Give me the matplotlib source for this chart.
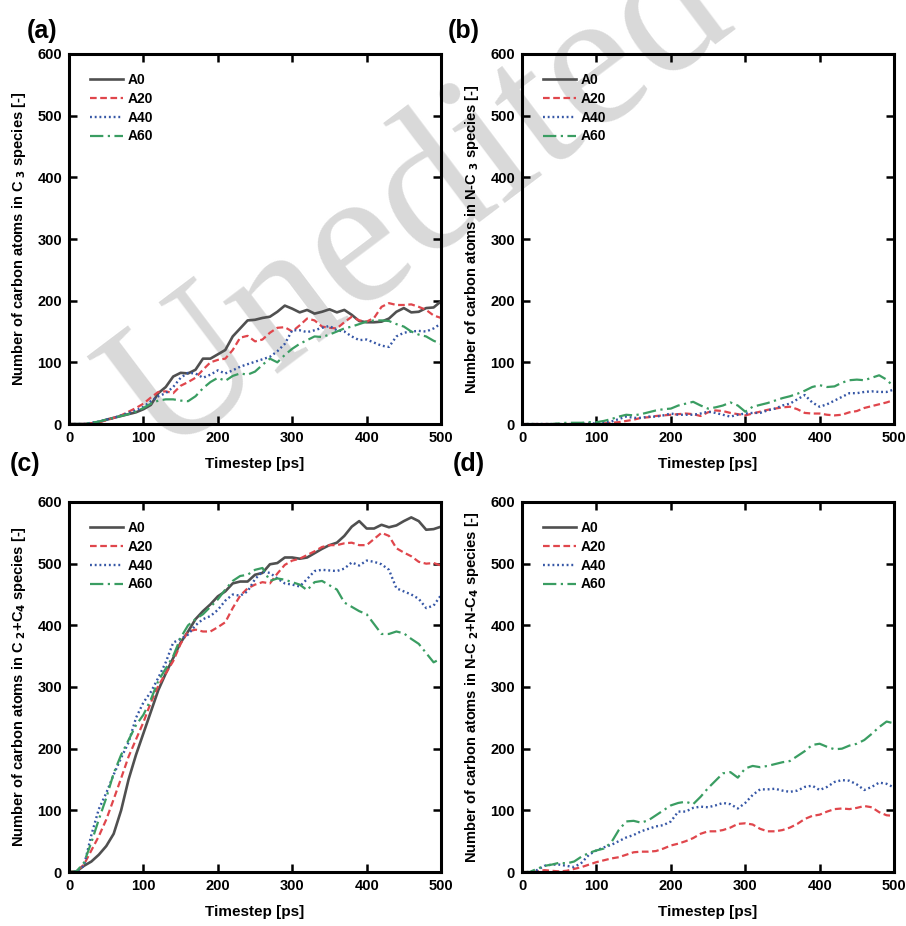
import matplotlib
matplotlib.use("Agg")
from matplotlib import pyplot as plt

plt.rcParams['font.family'] = ['Liberation Sans', 'DejaVu Sans']
plt.rcParams['font.weight'] = 'bold'
plt.rcParams['mathtext.default'] = 'bf'

# timestep grid [ps]
t = list(range(0, 501, 10))
t_flat = [0, 500]

series_names = ['A0', 'A20', 'A40', 'A60']

# (a) C3 species
a_A0 = [0, 0, 0, 1, 3, 7, 10, 13, 16, 19, 24, 31, 50, 60, 77, 83, 82, 88, 106, 106,
        113, 120, 142, 155, 168, 169, 172, 174, 182, 192, 187, 181, 185, 179, 182, 186,
        181, 185, 177, 167, 165, 165, 166, 171, 182, 188, 181, 182, 188, 189, 199]
a_A20 = [0, 0, 0, 1, 3, 6, 10, 14, 20, 26, 33, 43, 52, 53, 50, 62, 68, 75, 88, 100,
         104, 106, 120, 140, 143, 134, 137, 148, 156, 157, 150, 160, 171, 168, 158, 156,
         155, 165, 174, 168, 166, 172, 190, 196, 193, 193, 194, 190, 185, 176, 172]
a_A40 = [0, 0, 0, 2, 4, 7, 10, 14, 18, 22, 28, 37, 45, 50, 60, 75, 83, 82, 75, 80,
         87, 82, 87, 93, 97, 101, 105, 109, 118, 130, 152, 152, 149, 152, 156, 159,
         152, 150, 142, 136, 137, 132, 127, 125, 142, 148, 150, 151, 150, 155, 163]
a_A60 = [0, 0, 0, 2, 4, 7, 10, 13, 16, 20, 26, 33, 38, 40, 40, 38, 37, 45, 58, 68,
         75, 70, 78, 82, 80, 85, 96, 106, 100, 112, 122, 130, 136, 142, 141, 145,
         150, 155, 158, 162, 166, 168, 168, 167, 162, 158, 150, 145, 142, 135, 130]

# (b) N-C3 species
b_A0 = [0, 0]
b_A20 = [0, 0, 0, 0, 0, 0, 0, 0, 0, 0, 0, 1, 2, 3, 5, 7, 10, 11, 13, 14,
         15, 16, 17, 16, 13, 19, 22, 21, 18, 16, 14, 17, 20, 23, 25, 27,
         28, 24, 18, 17, 17, 15, 14, 15, 19, 21, 26, 29, 32, 35, 39]
b_A40 = [0, 0, 0, 0, 0, 0, 0, 0, 0, 1, 1, 2, 4, 8, 12, 10, 10, 12, 12, 14,
         17, 15, 15, 15, 17, 20, 18, 15, 12, 15, 17, 18, 18, 22, 25, 30,
         33, 40, 47, 35, 28, 32, 38, 44, 50, 50, 52, 53, 52, 52, 56]
b_A60 = [0, 0, 0, 0, 0, 1, 2, 2, 2, 3, 3, 5, 8, 12, 15, 14, 16, 19, 22, 24,
         25, 30, 33, 36, 30, 25, 27, 30, 35, 30, 20, 28, 31, 34, 38, 42,
         45, 49, 54, 60, 63, 60, 61, 67, 71, 72, 71, 75, 79, 72, 60]

# (c) C2+C4 species
c_A0 = [0, 1, 10, 17, 28, 42, 62, 100, 150, 190, 225, 260, 295, 322, 347, 372, 390, 410, 423, 434,
        447, 455, 468, 471, 471, 482, 485, 499, 501, 510, 510, 508, 510, 517, 524, 530,
        534, 545, 560, 569, 557, 557, 563, 559, 562, 569, 575, 569, 555, 556, 560]
c_A20 = [0, 1, 12, 35, 58, 85, 118, 152, 187, 215, 243, 275, 302, 322, 342, 370, 390, 393, 390, 390,
         397, 405, 428, 448, 460, 466, 470, 468, 484, 498, 505, 508, 514, 520, 527, 530,
         530, 533, 534, 530, 530, 540, 550, 545, 525, 518, 512, 503, 500, 501, 497]
c_A40 = [0, 1, 10, 60, 102, 128, 158, 185, 210, 250, 275, 292, 315, 340, 372, 378, 385, 400, 410, 415,
         425, 440, 450, 448, 455, 475, 487, 485, 476, 468, 466, 463, 475, 488, 490, 489,
         488, 492, 502, 497, 505, 503, 499, 490, 460, 455, 450, 443, 428, 432, 449]
c_A60 = [0, 1, 15, 48, 85, 120, 160, 190, 214, 238, 255, 280, 310, 330, 350, 380, 400, 410, 418, 430,
         442, 458, 472, 480, 482, 490, 493, 472, 476, 474, 470, 466, 457, 470, 472, 465,
         458, 437, 430, 423, 418, 402, 386, 386, 390, 387, 378, 370, 355, 340, 346]

# (d) N-C2+N-C4 species
d_A0 = [0, 0]
d_A20 = [0, 0, 1, 3, 2, 1, 2, 5, 8, 12, 16, 19, 22, 24, 28, 32, 33, 33, 34, 38,
         43, 46, 50, 55, 62, 66, 66, 68, 72, 78, 79, 77, 70, 66, 66, 68,
         72, 78, 86, 91, 93, 98, 102, 103, 102, 104, 107, 105, 97, 92, 91]
d_A40 = [0, 0, 3, 10, 12, 12, 10, 8, 15, 28, 35, 40, 44, 50, 56, 60, 66, 70, 74, 76,
         82, 98, 98, 104, 106, 105, 108, 112, 110, 103, 112, 125, 134, 134, 135, 132,
         130, 132, 138, 140, 133, 138, 146, 149, 148, 142, 133, 138, 145, 143, 137]
d_A60 = [0, 0, 5, 10, 12, 15, 14, 17, 25, 31, 35, 38, 48, 68, 82, 83, 80, 84, 92, 100,
         108, 112, 114, 110, 122, 136, 148, 160, 162, 153, 168, 172, 170, 172, 175, 178,
         180, 188, 196, 206, 208, 203, 199, 200, 205, 208, 214, 224, 235, 244, 241]

panels = [
    ('(a)', 'Number of carbon atoms in C $_3$ species [-]', [a_A0, a_A20, a_A40, a_A60]),
    ('(b)', 'Number of carbon atoms in N-C $_3$ species [-]', [b_A0, b_A20, b_A40, b_A60]),
    ('(c)', 'Number of carbon atoms in C $_2$+C$_4$ species [-]', [c_A0, c_A20, c_A40, c_A60]),
    ('(d)', 'Number of carbon atoms in N-C $_2$+N-C$_4$ species [-]', [d_A0, d_A20, d_A40, d_A60]),
]

colors = ['#505050', '#e0464c', '#3657a6', '#3a9d62']
styles = [dict(linestyle='-', linewidth=1.9),
          dict(dashes=(3, 1.6), linewidth=1.6),
          dict(dashes=(0.8, 1.2), linewidth=1.7),
          dict(dashes=(6, 2, 1, 2), linewidth=1.6)]

fig = plt.figure(figsize=(9.06, 9.26), dpi=100)

# watermark
fig.text(0.465, 0.78, 'Unedited', rotation=37, ha='center', va='center',
         fontsize=142, family='Liberation Serif', fontweight='normal',
         color='#d9d9d9', zorder=-5)

positions = [(0.0762, 0.5421), (0.5762, 0.5421), (0.0762, 0.0583), (0.5762, 0.0583)]
label_pos = [(0.029, 0.966), (0.494, 0.966), (0.011, 0.499), (0.500, 0.499)]

for (tag, ylabel, data), (x0, y0), (lx, ly) in zip(panels, positions, label_pos):
    ax = fig.add_axes([x0, y0, 0.4106, 0.3996])
    ax.set_facecolor('none')
    for name, ys, c, st in zip(series_names, data, colors, styles):
        xs = t if len(ys) == len(t) else t_flat
        ax.plot(xs, ys, color=c, label=name, **st)
    ax.set_xlim(0, 500)
    ax.set_ylim(0, 600)
    ax.set_xticks(range(0, 501, 100))
    ax.set_yticks(range(0, 601, 100))
    ax.tick_params(direction='in', length=5.5, width=1.8, top=True, right=True,
                   labelsize=10.5, pad=5)
    for s in ax.spines.values():
        s.set_linewidth(2.2)
    ax.set_xlabel('Timestep [ps]', fontsize=11, fontweight='bold', labelpad=9)
    ax.set_ylabel(ylabel, fontsize=10.5, fontweight='bold', labelpad=7)
    ax.legend(loc='upper left', bbox_to_anchor=(0.056, 0.949), borderaxespad=0,
              borderpad=0, frameon=False, handlelength=2.4, handletextpad=0.35,
              labelspacing=0.35, prop={'weight': 'bold', 'size': 10})
    fig.text(lx, ly, tag, fontsize=18, fontweight='bold', ha='left', va='center')

fig.savefig('out.png', dpi=100)
